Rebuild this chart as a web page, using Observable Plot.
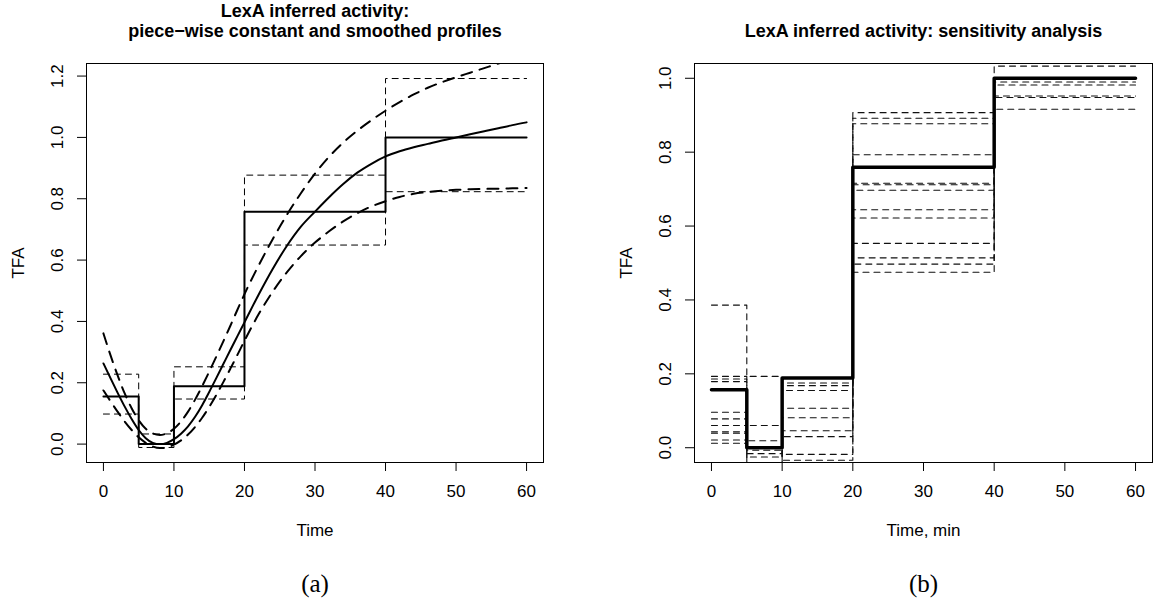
<!DOCTYPE html>
<html>
<head>
<meta charset="utf-8">
<script src="https://cdn.jsdelivr.net/npm/d3@7"></script>
<script src="https://cdn.jsdelivr.net/npm/@observablehq/plot@0.6"></script>
<style>
  body { margin: 0; background: #fff; }
  #wrap { position: relative; width: 1162px; height: 609px; overflow: hidden; }
  #wrap > svg { position: absolute; top: 0; }
</style>
</head>
<body>
<div id="wrap"></div>
<script>
// ---------- data ----------
const timeBreaks = [0, 5, 10, 20, 40, 60];

// panel (a): piece-wise constant profile with bounds
const tfaStep      = [0.155, 0.000, 0.189, 0.758, 1.000];
const tfaStepUpper = [0.228, 0.033, 0.252, 0.877, 1.192];
const tfaStepLower = [0.098, -0.011, 0.147, 0.649, 0.823];

// panel (a): smoothed profile with bounds
const smoothTime  = [0,1,2,3,4,5,6,7,8,9,10,11,12,13,14,15,16,17,18,19,20,22,24,26,28,30,32,34,36,38,40,42,44,46,48,50,52,54,56,58,60];
const smoothMean  = [0.263,0.215,0.168,0.123,0.082,0.046,0.019,0.004,0.000,0.004,0.016,0.034,0.058,0.089,0.127,0.170,0.215,0.261,0.307,0.352,0.397,0.487,0.571,0.646,0.709,0.758,0.805,0.848,0.885,0.914,0.938,0.955,0.968,0.979,0.990,1.000,1.010,1.020,1.030,1.040,1.049];
const smoothUpper = [0.361,0.290,0.225,0.166,0.117,0.078,0.050,0.035,0.030,0.035,0.050,0.074,0.106,0.145,0.189,0.236,0.285,0.335,0.386,0.438,0.489,0.582,0.668,0.747,0.818,0.882,0.937,0.983,1.022,1.056,1.087,1.115,1.140,1.162,1.180,1.196,1.211,1.226,1.241,1.255,1.268];
const smoothLower = [0.175,0.140,0.106,0.074,0.046,0.022,0.004,-0.008,-0.013,-0.011,-0.002,0.012,0.031,0.056,0.086,0.121,0.160,0.202,0.246,0.291,0.337,0.423,0.497,0.560,0.613,0.657,0.694,0.726,0.753,0.775,0.792,0.806,0.816,0.822,0.826,0.829,0.831,0.832,0.833,0.834,0.835];

// panel (b): sensitivity analysis profiles (levels on each interval)
const sensProfiles = [
  [0.386,  0.193,  0.175, 0.907, 1.033],
  [0.193,  0.060,  0.168, 0.892, 0.990],
  [0.186,  0.019,  0.155, 0.877, 0.982],
  [0.179, -0.007,  0.107, 0.793, 0.952],
  [0.096, -0.016,  0.081, 0.716, 0.948],
  [0.078, -0.025,  0.046, 0.712, 0.916],
  [0.060, -0.050,  0.030, 0.697, 1.000],
  [0.043, -0.050, -0.018, 0.644, 1.000],
  [0.039,  0.000, -0.034, 0.622, 1.000],
  [0.021,  0.000,  0.189, 0.553, 1.000],
  [0.012,  0.000,  0.189, 0.514, 1.000],
  [0.157,  0.000,  0.189, 0.497, 1.000],
  [0.157,  0.000,  0.189, 0.475, 1.000]
];
const sensMain = [0.157, 0.000, 0.189, 0.759, 1.000];

const xTicks = [0, 10, 20, 30, 40, 50, 60];
const yTicksA = [0, 0.2, 0.4, 0.6, 0.8, 1.0, 1.2];
const yTicksB = [0, 0.2, 0.4, 0.6, 0.8, 1.0];

const titleA = ["LexA inferred activity:", "piece\u2212wise constant and smoothed profiles"];
const titleB = "LexA inferred activity: sensitivity analysis";

// ---------- helpers ----------
const FONT = "'Liberation Sans', Arial, Helvetica, sans-serif";
function stepRows(levels, id) {
  const rows = timeBreaks.slice(0, -1).map((t, i) => ({t, v: levels[i], id}));
  rows.push({t: timeBreaks[timeBreaks.length - 1], v: levels[levels.length - 1], id});
  return rows;
}
function curveRows(vals) { return smoothTime.map((t, i) => ({t, v: vals[i]})); }
const fmt = d3.format(".1f");

function axesMarks(yTicks, xLabel) {
  return [
    Plot.frame({stroke: "#000", strokeWidth: 1}),
    Plot.axisX(xTicks, {tickSize: 9, fill: "none", stroke: "#000"}),
    Plot.axisY(yTicks, {tickSize: 9, fill: "none", stroke: "#000"}),
    Plot.text(xTicks, {x: d => d, frameAnchor: "bottom", dy: 29.5, lineAnchor: "middle", textAnchor: "middle", text: d => String(d), fontSize: 17, fill: "#000"}),
    Plot.text(yTicks, {y: d => d, frameAnchor: "left", dx: -29, rotate: -90, lineAnchor: "middle", textAnchor: "middle", text: d => fmt(d), fontSize: 17, fill: "#000"}),
    Plot.text([xLabel], {frameAnchor: "bottom", dy: 68.5, lineAnchor: "middle", text: d => d, fontSize: 17, fill: "#000"}),
    Plot.text(["TFA"], {frameAnchor: "left", dx: -68, rotate: -90, lineAnchor: "middle", textAnchor: "middle", text: d => d, fontSize: 17, fill: "#000"})
  ];
}

// ---------- panel (a) ----------
const plotA = Plot.plot({
  width: 581, height: 609,
  marginLeft: 86, marginRight: 38, marginTop: 63, marginBottom: 147,
  x: {domain: [-2.4, 62.4]},
  y: {domain: [-0.06, 1.241]},
  style: {fontFamily: FONT, fontSize: "17px", background: "white", overflow: "visible"},
  marks: [
    ...axesMarks(yTicksA, "Time"),
    Plot.line(stepRows(tfaStepUpper, "u"), {x: "t", y: "v", curve: "step-after", stroke: "#000", strokeWidth: 1, strokeDasharray: "6,5", clip: true}),
    Plot.line(stepRows(tfaStepLower, "l"), {x: "t", y: "v", curve: "step-after", stroke: "#000", strokeWidth: 1, strokeDasharray: "6,5", clip: true}),
    Plot.line(stepRows(tfaStep, "m"), {x: "t", y: "v", curve: "step-after", stroke: "#000", strokeWidth: 2, clip: true}),
    Plot.line(curveRows(smoothUpper), {x: "t", y: "v", curve: "monotone-x", stroke: "#000", strokeWidth: 2, strokeDasharray: "11,8", clip: true}),
    Plot.line(curveRows(smoothLower), {x: "t", y: "v", curve: "monotone-x", stroke: "#000", strokeWidth: 2, strokeDasharray: "11,8", clip: true}),
    Plot.line(curveRows(smoothMean), {x: "t", y: "v", curve: "monotone-x", stroke: "#000", strokeWidth: 2, clip: true}),
    Plot.text([titleA[0]], {frameAnchor: "top", dy: -52.5, lineAnchor: "middle", text: d => d, fontSize: 18, fontWeight: "bold", fill: "#000"}),
    Plot.text([titleA[1]], {frameAnchor: "top", dy: -32, lineAnchor: "middle", text: d => d, fontSize: 18, fontWeight: "bold", fill: "#000"}),
    Plot.text(["(a)"], {frameAnchor: "bottom", dy: 121, lineAnchor: "middle", text: d => d, fontSize: 25, fontFamily: "'Liberation Serif', 'DejaVu Serif', serif", fill: "#000"})
  ]
});
plotA.style.left = "0px";

// ---------- panel (b) ----------
const sensRows = sensProfiles.flatMap((p, k) => stepRows(p, "p" + k));
const plotB = Plot.plot({
  width: 581, height: 609,
  marginLeft: 113, marginRight: 10, marginTop: 63, marginBottom: 147,
  x: {domain: [-2.4, 62.4]},
  y: {domain: [-0.04, 1.04]},
  style: {fontFamily: FONT, fontSize: "17px", background: "white", overflow: "visible"},
  marks: [
    ...axesMarks(yTicksB, "Time, min"),
    Plot.line(sensRows, {x: "t", y: "v", z: "id", curve: "step-after", stroke: "#111", strokeWidth: 1.1, strokeDasharray: "6,5", clip: true}),
    Plot.line(stepRows(sensMain, "m"), {x: "t", y: "v", curve: "step-after", stroke: "#000", strokeWidth: 3.5, clip: true}),
    Plot.text([titleB], {frameAnchor: "top", dy: -32, lineAnchor: "middle", text: d => d, fontSize: 18, fontWeight: "bold", fill: "#000"}),
    Plot.text(["(b)"], {frameAnchor: "bottom", dy: 121, lineAnchor: "middle", text: d => d, fontSize: 25, fontFamily: "'Liberation Serif', 'DejaVu Serif', serif", fill: "#000"})
  ]
});
plotB.style.left = "581px";

const wrap = document.getElementById("wrap");
wrap.appendChild(plotA);
wrap.appendChild(plotB);
</script>
</body>
</html>
